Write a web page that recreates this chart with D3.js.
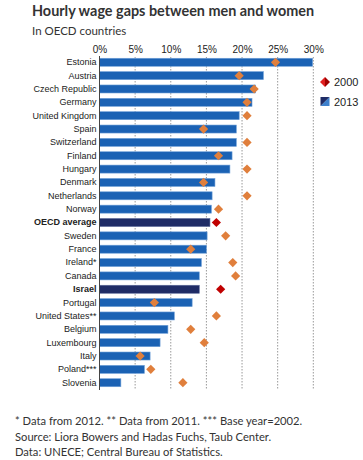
<!DOCTYPE html>
<html><head><meta charset="utf-8">
<script src="https://cdn.jsdelivr.net/npm/d3@7/dist/d3.min.js"></script>
<style>body{margin:0;background:#fff}svg{display:block}</style>
</head><body>
<script>
const countries = ["Estonia","Austria","Czech Republic","Germany","United Kingdom","Spain","Switzerland","Finland","Hungary","Denmark","Netherlands","Norway","OECD average","Sweden","France","Ireland*","Canada","Israel","Portugal","United States**","Belgium","Luxembourg","Italy","Poland***","Slovenia"];
const gap2013 = [29.9,23.0,21.9,21.4,19.6,19.2,19.2,18.6,18.3,16.2,15.8,15.7,15.5,15.1,15.0,14.3,14.0,14.0,13.0,10.5,9.6,8.5,7.1,6.3,3.0];
const gap2000 = [24.7,19.6,21.7,20.7,20.7,14.6,20.7,16.7,20.7,14.6,20.7,16.7,16.4,17.7,12.8,18.7,19.1,17.0,7.7,16.4,12.8,14.7,5.7,7.2,11.7];
const highlight = ["OECD average","Israel"];
const ticks = [0,5,10,15,20,25,30];

const W=363,H=460;
const svg=d3.select("body").append("svg").attr("width",W).attr("height",H);
const x=d3.scaleLinear().domain([0,30]).range([99.5,313.3]);
const y=d3.scaleBand().domain(countries).range([55.6,389.4]).paddingInner(0.4).paddingOuter(0.2);

svg.append("text").attr("x",32).attr("y",16).attr("font-family","Lato, 'Open Sans', sans-serif")
  .attr("font-weight","bold").attr("font-size",14.4).attr("fill","#333").text("Hourly wage gaps between men and women");
svg.append("text").attr("x",32).attr("y",35).attr("font-family","Lato, 'Open Sans', sans-serif")
  .attr("font-size",11.5).attr("fill","#333").text("In OECD countries");

// gridlines
svg.append("g").selectAll("line").data(ticks.slice(1)).join("line")
  .attr("x1",d=>x(d)).attr("x2",d=>x(d)).attr("y1",57).attr("y2",390)
  .attr("stroke","#999").attr("stroke-width",1).attr("stroke-dasharray","1.5,1.5");

// top axis
const ax=svg.append("g").attr("transform","translate(0,57)")
  .call(d3.axisTop(x).tickValues(ticks).tickFormat(d=>d+"%").tickSize(0).tickPadding(4));
ax.select(".domain").remove();
ax.selectAll("text").attr("font-family","'Liberation Sans', Arial, sans-serif").attr("font-size",10).attr("fill","#222");

// bars
svg.append("g").selectAll("rect").data(countries).join("rect")
  .attr("x",x(0)).attr("y",d=>y(d)).attr("height",y.bandwidth())
  .attr("width",(d,i)=>x(gap2013[i])-x(0))
  .attr("fill",d=>highlight.includes(d)?"#1f2c66":"#1b62b4")
  .attr("stroke",d=>highlight.includes(d)?"#5b6a9a":"#6fa0d8").attr("stroke-width",0.6);

// left axis
const ay=svg.append("g").attr("transform",`translate(${x(0)},0)`)
  .call(d3.axisLeft(y).tickSize(0).tickPadding(3));
ay.select(".domain").attr("stroke","#444").attr("d","M0,56V390");
ay.selectAll("text").attr("font-family","'Liberation Sans', Arial, sans-serif").attr("font-size",9).attr("fill","#222")
  .attr("font-weight",d=>highlight.includes(d)?"bold":"normal");

// diamonds
const ds=4.6;
svg.append("g").selectAll("path").data(countries).join("path")
  .attr("d",(d,i)=>{const cx=x(gap2000[i]),cy=y(d)+y.bandwidth()/2;return `M${cx},${cy-ds}L${cx+ds},${cy}L${cx},${cy+ds}L${cx-ds},${cy}Z`;})
  .attr("fill",d=>highlight.includes(d)?"#c00000":"#e07f3c");

// legend
const lg=svg.append("g");
const lx=325,ly1=82,ly2=101.5;
lg.append("path").attr("d",`M${lx},${ly1-5}L${lx},${ly1+5}L${lx-5},${ly1}Z`).attr("fill","#e02020");
lg.append("path").attr("d",`M${lx},${ly1-5}L${lx+5},${ly1}L${lx},${ly1+5}Z`).attr("fill","#a00000");
lg.append("path").attr("d",`M${lx-4.5},${ly2+4.5}L${lx+4.5},${ly2-4.5}L${lx+4.5},${ly2+4.5}Z`).attr("fill","#3d80cc");
lg.append("path").attr("d",`M${lx-4.5},${ly2+4.5}L${lx-4.5},${ly2-4.5}L${lx+4.5},${ly2-4.5}Z`).attr("fill","#1f2c66");
lg.append("text").attr("x",334).attr("y",ly1+4).text("2000");
lg.append("text").attr("x",334).attr("y",ly2+4).text("2013");
lg.selectAll("text").attr("font-family","'Liberation Sans', Arial, sans-serif").attr("font-size",11).attr("fill","#222");

// footnotes
const notes=["* Data from 2012. ** Data from 2011. *** Base year=2002.","Source: Liora Bowers and Hadas Fuchs, Taub Center.","Data: UNECE; Central Bureau of Statistics."];
svg.append("g").selectAll("text").data(notes).join("text")
  .attr("x",15).attr("y",(d,i)=>425+i*15.5).text(d=>d)
  .attr("font-family","Lato, 'Open Sans', sans-serif").attr("font-size",11.2).attr("fill","#333");
</script>
</body></html>
